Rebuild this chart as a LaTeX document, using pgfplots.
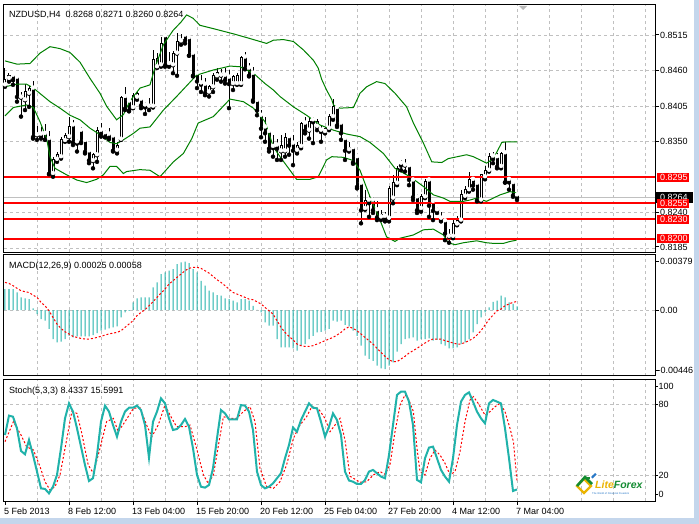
\documentclass[border=0pt]{standalone}
\usepackage{pgfplots}
\usepackage{pgfplotstable}
\pgfplotsset{compat=1.18}
\usepackage{fontspec}
\setmainfont{Liberation Sans}
\definecolor{gridc}{RGB}{192,192,192}
\definecolor{bbc}{RGB}{0,128,0}
\definecolor{tealc}{RGB}{32,178,170}
\definecolor{framec}{RGB}{196,214,236}
\definecolor{logog}{RGB}{20,140,50}
\definecolor{logob}{RGB}{40,120,200}
\definecolor{logoy}{RGB}{235,180,0}
\newcommand\f{\fontsize{9pt}{10pt}\selectfont}
\pgfplotstableread{
x O H L C
0 0.8438 0.8464 0.8435 0.8447
1 0.8448 0.8456 0.8443 0.8452
2 0.8453 0.8456 0.8438 0.8446
3 0.8450 0.8452 0.8412 0.8420
4 0.8419 0.8427 0.8389 0.8422
5 0.8415 0.8440 0.8399 0.8427
6 0.8425 0.8436 0.8404 0.8433
7 0.8433 0.8444 0.8355 0.8358
8 0.8361 0.8374 0.8353 0.8363
9 0.8362 0.8373 0.8355 0.8358
10 0.8363 0.8378 0.8353 0.8354
11 0.8355 0.8366 0.8300 0.8301
12 0.8301 0.8326 0.8296 0.8323
13 0.8323 0.8335 0.8319 0.8330
14 0.8327 0.8358 0.8324 0.8353
15 0.8352 0.8363 0.8350 0.8359
16 0.8358 0.8388 0.8350 0.8374
17 0.8376 0.8384 0.8345 0.8350
18 0.8350 0.8355 0.8335 0.8348
19 0.8368 0.8373 0.8348 0.8350
20 0.8352 0.8353 0.8332 0.8335
21 0.8336 0.8337 0.8317 0.8322
22 0.8321 0.8333 0.8309 0.8330
23 0.8330 0.8373 0.8319 0.8368
24 0.8368 0.8379 0.8358 0.8363
25 0.8364 0.8369 0.8357 0.8358
26 0.8362 0.8371 0.8354 0.8357
27 0.8359 0.8361 0.8335 0.8337
28 0.8337 0.8350 0.8332 0.8345
29 0.8354 0.8421 0.8353 0.8419
30 0.8420 0.8435 0.8399 0.8402
31 0.8413 0.8415 0.8397 0.8399
32 0.8403 0.8426 0.8402 0.8422
33 0.8419 0.8427 0.8415 0.8424
34 0.8416 0.8417 0.8402 0.8407
35 0.8407 0.8412 0.8393 0.8404
36 0.8405 0.8417 0.8399 0.8408
37 0.8405 0.8492 0.8403 0.8477
38 0.8466 0.8487 0.8464 0.8479
39 0.8469 0.8512 0.8466 0.8502
40 0.8514 0.8518 0.8466 0.8469
41 0.8471 0.8489 0.8466 0.8469
42 0.8469 0.8491 0.8456 0.8487
43 0.8487 0.8518 0.8452 0.8505
44 0.8506 0.8517 0.8500 0.8508
45 0.8515 0.8518 0.8502 0.8507
46 0.8511 0.8512 0.8483 0.8484
47 0.8487 0.8489 0.8451 0.8453
48 0.8456 0.8461 0.8433 0.8444
49 0.8441 0.8453 0.8427 0.8439
50 0.8439 0.8448 0.8422 0.8426
51 0.8427 0.8438 0.8420 0.8435
52 0.8435 0.8456 0.8427 0.8453
53 0.8452 0.8464 0.8446 0.8457
54 0.8453 0.8462 0.8443 0.8456
55 0.8453 0.8464 0.8440 0.8446
56 0.8450 0.8461 0.8402 0.8440
57 0.8440 0.8453 0.8430 0.8451
58 0.8440 0.8456 0.8438 0.8452
59 0.8440 0.8483 0.8438 0.8481
60 0.8481 0.8488 0.8462 0.8464
61 0.8464 0.8471 0.8451 0.8453
62 0.8456 0.8466 0.8412 0.8415
63 0.8414 0.8417 0.8391 0.8399
64 0.8391 0.8399 0.8357 0.8371
65 0.8373 0.8389 0.8350 0.8364
66 0.8366 0.8368 0.8335 0.8340
67 0.8343 0.8361 0.8327 0.8341
68 0.8345 0.8355 0.8322 0.8340
69 0.8336 0.8361 0.8322 0.8344
70 0.8336 0.8363 0.8327 0.8357
71 0.8358 0.8361 0.8330 0.8345
72 0.8348 0.8361 0.8314 0.8337
73 0.8337 0.8350 0.8332 0.8344
74 0.8343 0.8381 0.8340 0.8379
75 0.8379 0.8389 0.8363 0.8368
76 0.8368 0.8389 0.8355 0.8381
77 0.8384 0.8389 0.8348 0.8381
78 0.8374 0.8386 0.8368 0.8381
79 0.8368 0.8376 0.8350 0.8366
80 0.8366 0.8373 0.8363 0.8371
81 0.8371 0.8393 0.8368 0.8389
82 0.8389 0.8416 0.8384 0.8405
83 0.8403 0.8405 0.8373 0.8376
84 0.8379 0.8381 0.8353 0.8364
85 0.8355 0.8358 0.8322 0.8337
86 0.8338 0.8350 0.8335 0.8341
87 0.8341 0.8344 0.8316 0.8319
88 0.8327 0.8330 0.8278 0.8281
89 0.8286 0.8288 0.8224 0.8245
90 0.8247 0.8276 0.8245 0.8260
91 0.8260 0.8268 0.8234 0.8256
92 0.8260 0.8265 0.8240 0.8245
93 0.8245 0.8258 0.8229 0.8234
94 0.8234 0.8245 0.8229 0.8237
95 0.8235 0.8242 0.8227 0.8231
96 0.8232 0.8281 0.8227 0.8278
97 0.8263 0.8299 0.8255 0.8287
98 0.8286 0.8312 0.8283 0.8309
99 0.8317 0.8322 0.8306 0.8314
100 0.8314 0.8323 0.8304 0.8317
101 0.8313 0.8314 0.8283 0.8292
102 0.8291 0.8294 0.8260 0.8265
103 0.8265 0.8270 0.8240 0.8245
104 0.8247 0.8270 0.8242 0.8265
105 0.8265 0.8292 0.8263 0.8288
106 0.8291 0.8292 0.8234 0.8252
107 0.8258 0.8260 0.8229 0.8244
108 0.8245 0.8249 0.8240 0.8246
109 0.8232 0.8242 0.8227 0.8229
110 0.8228 0.8232 0.8198 0.8209
111 0.8204 0.8216 0.8194 0.8206
112 0.8204 0.8229 0.8201 0.8224
113 0.8223 0.8235 0.8221 0.8229
114 0.8229 0.8276 0.8227 0.8268
115 0.8266 0.8281 0.8263 0.8277
116 0.8276 0.8304 0.8273 0.8292
117 0.8292 0.8294 0.8276 0.8283
118 0.8286 0.8288 0.8258 0.8260
119 0.8260 0.8301 0.8258 0.8299
120 0.8296 0.8312 0.8292 0.8306
121 0.8306 0.8332 0.8304 0.8328
122 0.8328 0.8335 0.8317 0.8324
123 0.8327 0.8333 0.8309 0.8312
124 0.8312 0.8335 0.8309 0.8332
125 0.8333 0.8349 0.8287 0.8288
126 0.8292 0.8294 0.8276 0.8288
127 0.8287 0.8290 0.8265 0.8268
128 0.8268 0.8271 0.8260 0.8264
}\candles
\pgfplotsset{panel/.style={scale only axis, width=651pt, anchor=north west,
  xmin=-0.25, xmax=162.5, axis line style={black,line width=1pt},
  xtick={8,16,...,160}, xticklabels={}, yticklabels={}, major tick length=0pt,
  scaled y ticks=false, scaled x ticks=false, grid=major,
  major grid style={gridc,line width=1pt,dash pattern=on 3pt off 3pt},
  clip=false}}
\begin{document}
\begin{tikzpicture}[x=1pt,y=1pt]
\useasboundingbox (0,0) rectangle (699,-524);
\fill[framec] (0,0) rectangle (699,-524);
\fill[white] (0,0) rectangle (694,-517.5);
% ---------------- main panel ----------------
\begin{axis}[panel, at={(4pt,-5pt)}, height=247pt, ymin=0.81797, ymax=0.85614,
  ytick={0.8185,0.8240,0.8295,0.8350,0.8405,0.8460,0.8515}]
\addplot[gridc,line width=1pt] coordinates {(-0.25,0.8264) (162.5,0.8264)};
% wicks
\addplot[black, only marks, mark=none,
  error bars/.cd, y dir=plus, y explicit, error mark=none,
  error bar style={black,line width=1pt}]
  table[x=x, y=L, y error expr=\thisrow{H}-\thisrow{L}] {\candles};
% bodies (outline / bear fill)
\addplot[black, only marks, mark=none,
  error bars/.cd, y dir=plus, y explicit, error mark=none,
  error bar style={black,line width=3pt}]
  table[x=x, y expr={min(\thisrow{O},\thisrow{C})-0.00008},
        y error expr={abs(\thisrow{O}-\thisrow{C})+0.00016}] {\candles};
% bull interior
\addplot[white, only marks, mark=none,
  error bars/.cd, y dir=plus, y explicit, error mark=none,
  error bar style={white,line width=1pt}]
  table[x=x, y expr={\thisrow{O}+0.00008},
        y error expr={max(\thisrow{C}-\thisrow{O}-0.00016,0)}] {\candles};
% Bollinger bands
\addplot[bbc,line width=1pt] coordinates {(0,0.8475) (3,0.8470) (6.25,0.8471) (8.75,0.8487) (11.25,0.8497) (13.75,0.8494) (16.25,0.8488) (18.75,0.8473) (21.25,0.8448) (23.75,0.8425) (25.4,0.8405) (27.9,0.8384) (29.6,0.8392) (31.25,0.8413) (33.75,0.8433) (36.25,0.8438) (37.5,0.8465) (39.6,0.8500) (42,0.8522) (44,0.8535) (45.4,0.8546) (47,0.8541) (48.75,0.8530) (52,0.8525) (57,0.8517) (61,0.8510) (65.4,0.8502) (67.1,0.8507) (69.6,0.8508) (72.1,0.8505) (74.6,0.8492) (77.1,0.8476) (78.3,0.8464) (79.2,0.8446) (80.4,0.8430) (81.7,0.8415) (82.1,0.8407) (83.75,0.8402) (87.1,0.8403) (88.75,0.8425) (90.4,0.8435) (92.9,0.8443) (95,0.8440) (97.5,0.8425) (100.4,0.8404) (102.1,0.8379) (104.6,0.8348) (106.7,0.8319) (109.2,0.8318) (110.8,0.8324) (115.4,0.8330) (117.1,0.8327) (120.4,0.8317) (122.1,0.8324) (124.2,0.8349) (125.4,0.8350) (128,0.8350)};
\addplot[bbc,line width=1pt] coordinates {(0,0.8435) (2.9,0.8439) (5.4,0.8439) (7.1,0.8433) (11.25,0.8412) (13.75,0.8402) (16.25,0.8391) (18.75,0.8384) (21.25,0.8371) (23.75,0.8361) (26.25,0.8349) (27.9,0.8347) (29.6,0.8353) (32.1,0.8363) (33.75,0.8371) (36.25,0.8373) (39.6,0.8399) (42.9,0.8420) (47.9,0.8453) (52.1,0.8461) (56.25,0.8467) (58.75,0.8466) (62.1,0.8456) (65,0.8440) (67.1,0.8430) (68.75,0.8420) (72.1,0.8404) (75.4,0.8391) (78.75,0.8376) (82.1,0.8368) (85.4,0.8362) (88.75,0.8358) (91.25,0.8349) (94.6,0.8332) (97.5,0.8309) (101.25,0.8296) (104.6,0.8281) (107.1,0.8268) (109.6,0.8263) (111.25,0.8258) (114.6,0.8258) (116.25,0.8260) (117.9,0.8263) (120.4,0.8258) (123.75,0.8268) (126.25,0.8273) (128,0.8271)};
\addplot[bbc,line width=1pt] coordinates {(0,0.8390) (2.1,0.8403) (5.4,0.8407) (7.1,0.8403) (8.75,0.8381) (10.4,0.8355) (11.25,0.8327) (12.5,0.8309) (15.4,0.8299) (17.9,0.8291) (20.4,0.8287) (22.9,0.8292) (24.6,0.8299) (26.25,0.8312) (27.9,0.8312) (29.6,0.8301) (30.4,0.8304) (33.75,0.8307) (36.25,0.8306) (38.75,0.8296) (42.1,0.8319) (44.6,0.8332) (46.7,0.8355) (48.3,0.8379) (52.1,0.8389) (56.25,0.8416) (59.6,0.8412) (62.1,0.8402) (65,0.8381) (67.1,0.8342) (68.75,0.8327) (71.25,0.8306) (72.9,0.8292) (76.25,0.8292) (78.3,0.8296) (80.4,0.8322) (81.7,0.8327) (84.6,0.8326) (87.1,0.8321) (88.75,0.8306) (91.25,0.8265) (93.75,0.8229) (95.4,0.8203) (97.5,0.8196) (98.75,0.8201) (102.1,0.8206) (104.6,0.8214) (107.1,0.8215) (109.6,0.8206) (110.8,0.8194) (112.5,0.8191) (114.6,0.8194) (117.9,0.8197) (120.4,0.8194) (122.1,0.8193) (124.6,0.8193) (126.25,0.8196) (127.9,0.8198)};
% support / resistance lines
\addplot[red,line width=2pt] coordinates {(-0.25,0.8295) (162.5,0.8295)};
\addplot[red,line width=2pt] coordinates {(-0.25,0.8255) (162.5,0.8255)};
\addplot[red,line width=2pt] coordinates {(-0.25,0.8230) (162.5,0.8230)};
\addplot[red,line width=2pt] coordinates {(-0.25,0.8200) (162.5,0.8200)};
\end{axis}
% ---------------- MACD panel ----------------
\begin{axis}[panel, at={(4pt,-254pt)}, height=122pt, ymin=-0.00446, ymax=0.00379, ytick={0}]
\addplot[ybar, bar width=1pt, fill=tealc, draw=none] coordinates {(0,0.00142) (1,0.00142) (2,0.00142) (3,0.00119) (4,0.00086) (5,0.00079) (6,0.00074) (7,0.00011) (8,-0.00027) (9,-0.00061) (10,-0.00072) (11,-0.00128) (12,-0.00196) (13,-0.00219) (14,-0.00214) (15,-0.00196) (16,-0.00174) (17,-0.00185) (18,-0.00178) (19,-0.00178) (20,-0.00178) (21,-0.00178) (22,-0.00169) (23,-0.00156) (24,-0.00140) (25,-0.00133) (26,-0.00124) (27,-0.00117) (28,-0.00110) (29,-0.00050) (30,-0.00016) (31,-0.00005) (32,0.00052) (33,0.00079) (34,0.00086) (35,0.00086) (36,0.00086) (37,0.00153) (38,0.00187) (39,0.00243) (40,0.00255) (41,0.00266) (42,0.00277) (43,0.00311) (44,0.00322) (45,0.00327) (46,0.00318) (47,0.00277) (48,0.00255) (49,0.00198) (50,0.00165) (51,0.00131) (52,0.00119) (53,0.00101) (54,0.00097) (55,0.00079) (56,0.00074) (57,0.00063) (58,0.00052) (59,0.00074) (60,0.00074) (61,0.00063) (62,0.00029) (63,0.00001) (64,-0.00016) (65,-0.00083) (66,-0.00106) (67,-0.00106) (68,-0.00196) (69,-0.00252) (70,-0.00252) (71,-0.00252) (72,-0.00259) (73,-0.00275) (74,-0.00241) (75,-0.00230) (76,-0.00196) (77,-0.00174) (78,-0.00151) (79,-0.00147) (80,-0.00140) (81,-0.00128) (82,-0.00072) (83,-0.00079) (84,-0.00072) (85,-0.00101) (86,-0.00110) (87,-0.00140) (88,-0.00174) (89,-0.00241) (90,-0.00309) (91,-0.00331) (92,-0.00343) (93,-0.00376) (94,-0.00394) (95,-0.00399) (96,-0.00376) (97,-0.00354) (98,-0.00282) (99,-0.00230) (100,-0.00196) (101,-0.00192) (102,-0.00185) (103,-0.00207) (104,-0.00196) (105,-0.00196) (106,-0.00192) (107,-0.00207) (108,-0.00201) (109,-0.00230) (110,-0.00241) (111,-0.00259) (112,-0.00259) (113,-0.00252) (114,-0.00230) (115,-0.00219) (116,-0.00196) (117,-0.00151) (118,-0.00095) (119,-0.00050) (120,-0.00016) (121,0.00018) (122,0.00056) (123,0.00063) (124,0.00097) (125,0.00086) (126,0.00052) (127,0.00041) (128,0.00025)};
\addplot[red, line width=1pt, dash pattern=on 2pt off 2pt] coordinates {(0,0.00187) (1,0.00180) (2,0.00165) (3,0.00147) (4,0.00131) (5,0.00124) (6,0.00119) (7,0.00101) (8,0.00086) (9,0.00052) (10,0.00029) (11,-0.00005) (12,-0.00050) (13,-0.00095) (14,-0.00124) (15,-0.00147) (16,-0.00162) (17,-0.00178) (18,-0.00185) (19,-0.00192) (20,-0.00196) (21,-0.00196) (22,-0.00192) (23,-0.00185) (24,-0.00178) (25,-0.00169) (26,-0.00162) (27,-0.00156) (28,-0.00151) (29,-0.00140) (30,-0.00117) (31,-0.00095) (32,-0.00072) (33,-0.00038) (34,-0.00016) (35,0.00002) (36,0.00029) (37,0.00056) (38,0.00086) (39,0.00115) (40,0.00142) (41,0.00176) (42,0.00198) (43,0.00221) (44,0.00243) (45,0.00266) (46,0.00282) (47,0.00289) (48,0.00289) (49,0.00282) (50,0.00266) (51,0.00250) (52,0.00228) (53,0.00205) (54,0.00187) (55,0.00165) (56,0.00142) (57,0.00119) (58,0.00108) (59,0.00097) (60,0.00086) (61,0.00074) (62,0.00070) (63,0.00056) (64,0.00041) (65,0.00018) (66,-0.00005) (67,-0.00027) (68,-0.00072) (69,-0.00117) (70,-0.00151) (71,-0.00178) (72,-0.00201) (73,-0.00230) (74,-0.00241) (75,-0.00246) (76,-0.00246) (77,-0.00241) (78,-0.00230) (79,-0.00219) (80,-0.00207) (81,-0.00196) (82,-0.00185) (83,-0.00169) (84,-0.00151) (85,-0.00128) (86,-0.00113) (87,-0.00124) (88,-0.00140) (89,-0.00162) (90,-0.00185) (91,-0.00207) (92,-0.00230) (93,-0.00259) (94,-0.00286) (95,-0.00313) (96,-0.00336) (97,-0.00349) (98,-0.00349) (99,-0.00331) (100,-0.00313) (101,-0.00291) (102,-0.00275) (103,-0.00259) (104,-0.00241) (105,-0.00223) (106,-0.00207) (107,-0.00196) (108,-0.00196) (109,-0.00196) (110,-0.00207) (111,-0.00214) (112,-0.00223) (113,-0.00230) (114,-0.00230) (115,-0.00219) (116,-0.00207) (117,-0.00192) (118,-0.00169) (119,-0.00140) (120,-0.00101) (121,-0.00065) (122,-0.00034) (123,-0.00005) (124,0.00007) (125,0.00029) (126,0.00041) (127,0.00052) (128,0.00058)};
\end{axis}
% ---------------- Stochastic panel ----------------
\begin{axis}[panel, at={(4pt,-379pt)}, height=122pt, ymin=-1.35, ymax=101.35, ytick={20,80}]
\addplot[red, line width=1pt, dash pattern=on 2pt off 2pt] coordinates {(0,48.6) (2.1,65.4) (4,54.2) (5.4,44.4) (7.1,41.6) (8.75,27.6) (10,14.9) (11.25,7.9) (12.5,10.7) (13.75,20.6) (15.4,50.0) (16.7,73.9) (18,72.4) (19.2,55.6) (20.8,29.0) (22.1,22.0) (23.75,43.0) (25.4,65.4) (27.1,68.2) (28.3,57.0) (30,65.4) (32.1,76.6) (33.75,77.2) (35.4,62.6) (36.7,52.8) (38.3,62.6) (40,79.4) (41.25,71.0) (42.9,61.2) (45,61.2) (46.25,62.6) (47.9,43.0) (49.6,20.6) (50.8,13.5) (52.1,20.6) (53.3,44.4) (54.6,69.6) (56.25,68.2) (57.9,68.2) (59.6,73.9) (61.25,78.0) (62.5,65.4) (63.75,26.2) (65.4,10.7) (67.1,9.3) (68.75,14.9) (70.4,29.0) (72.1,51.4) (73.75,62.6) (75.4,69.6) (76.7,78.0) (78.3,76.6) (80,68.2) (81.25,57.0) (82.5,62.6) (83.75,68.2) (85,50.0) (86.25,19.5) (87.1,17.8) (88.75,14.4) (90.4,14.9) (92.1,20.6) (93.75,23.4) (95,21.1) (96.25,29.0) (97.5,57.0) (98.75,79.4) (100,87.9) (100.8,85.1) (102.1,73.9) (103,43.0) (103.75,23.4) (105,20.6) (106.25,34.6) (107.5,41.6) (108.75,37.4) (110,30.4) (111.25,20.6) (112.5,23.4) (113.75,40.2) (115,65.4) (116.25,83.7) (117.1,86.5) (118.3,80.8) (120,71.0) (121.25,73.9) (122.5,78.0) (123.75,80.8) (125,73.9) (126.25,59.8) (127.1,48.6) (128,15.6)};
\addplot[tealc, line width=2pt] coordinates {(0,54.2) (1,70.5) (2,69.6) (3,59.8) (4,40.8) (5,38.0) (6,50.0) (7,37.4) (8,23.4) (9,9.3) (10,8.8) (11,5.1) (12,10.7) (13,20.6) (14,43.0) (15,68.2) (16,80.8) (17,73.9) (18,59.8) (19,44.4) (20,29.0) (21,15.5) (22,17.8) (23,37.4) (24,65.4) (25,78.9) (26,73.9) (27,62.6) (28,52.8) (29,65.4) (30,73.9) (31,77.2) (32,77.2) (33,78.9) (34,75.2) (35,62.6) (36,35.1) (37,65.4) (38,73.9) (39,85.1) (40,80.8) (41,68.2) (42,58.4) (43,59.3) (44,62.6) (45,67.7) (46,61.2) (47,43.0) (48,20.6) (49,10.7) (50,9.9) (51,12.1) (52,26.2) (53,51.4) (54,75.2) (55,72.4) (56,67.4) (57,67.4) (58,67.4) (59,79.4) (60,78.9) (61,73.9) (62,58.4) (63,23.4) (64,12.1) (65,9.3) (66,10.7) (67,13.5) (68,17.8) (69,22.0) (70,34.6) (71,45.8) (72,60.4) (73,57.0) (74,66.8) (75,73.9) (76,80.8) (77,77.2) (78,76.6) (79,65.4) (80,52.8) (81,61.2) (82,72.4) (83,66.8) (84,54.2) (85,23.4) (86,15.9) (87,14.9) (88,13.0) (89,13.0) (90,16.4) (91,23.4) (92,24.8) (93,22.0) (94,19.2) (95,17.8) (96,37.4) (97,62.6) (98,87.9) (99,90.7) (100,90.7) (101,82.3) (102,62.6) (103,16.4) (104,14.4) (105,34.6) (106,43.6) (107,44.4) (108,34.6) (109,24.8) (110,19.2) (111,14.9) (112,34.6) (113,62.6) (114,82.3) (115,87.9) (116,90.1) (117,82.3) (118,73.9) (119,68.2) (120,64.0) (121,80.8) (122,83.7) (123,82.3) (124,80.8) (125,59.8) (126,34.6) (127,7.1) (128,8.4)};
\end{axis}
% ---------------- titles ----------------
\node[anchor=base west,inner sep=0] at (9,-17.3) {\f NZDUSD,H4\ \ 0.8268 0.8271 0.8260 0.8264};
\node[anchor=base west,inner sep=0] at (9,-268.3) {\f MACD(12,26,9) 0.00025 0.00058};
\node[anchor=base west,inner sep=0] at (9,-393.3) {\f Stoch(5,3,3) 8.4337 15.5991};
% shift marker
\fill[gray!55] (519,-6) -- (527,-6) -- (523,-10) -- cycle;
% ---------------- right scale: main ----------------
\foreach \yy/\tt in {35/0.8515,70.6/0.8460,106.2/0.8405,141.8/0.8350,212.6/0.8240,246.8/0.8185}{
  \draw[black,line width=1pt] (655,-\yy) -- (658.5,-\yy);
  \node[anchor=base west,inner sep=0] at (660,-\yy-3.2) {\f\tt};}
\fill[red] (656.5,-172.9) rectangle (689,-181.9);
\node[anchor=base west,inner sep=0,text=white] at (660,-180.6) {\f 0.8295};
\fill[black] (656,-192) rectangle (692.5,-203);
\node[anchor=base west,inner sep=0,text=white] at (660,-200.6) {\f 0.8264};
\fill[red] (656.5,-198.6) rectangle (689,-207.6);
\node[anchor=base west,inner sep=0,text=white] at (660,-206.3) {\f 0.8255};
\fill[red] (656.5,-214.6) rectangle (689,-223.6);
\node[anchor=base west,inner sep=0,text=white] at (660,-222.3) {\f 0.8230};
\fill[red] (656.5,-234.2) rectangle (689,-243.2);
\node[anchor=base west,inner sep=0,text=white] at (660,-241.9) {\f 0.8200};
% ---------------- right scale: MACD ----------------
\foreach \yy in {261.7,310.5,370.7}{
  \draw[black,line width=1pt] (655,-\yy) -- (658.5,-\yy);}
\node[anchor=base west,inner sep=0] at (660,-264.9) {\f 0.00379};
\node[anchor=base west,inner sep=0] at (660,-313.7) {\f 0.00};
\node[anchor=base west,inner sep=0] at (657.5,-373.9) {\f -0.00446};
% ---------------- right scale: Stoch ----------------
\foreach \yy/\tt in {386.7/100,404.3/80,475.7/20,494/0}{
  \draw[black,line width=1pt] (655,-\yy) -- (658,-\yy);
  \node[anchor=base west,inner sep=0] at (658.5,-\yy-3.2) {\f\tt};}
% ---------------- time axis ----------------
\foreach \xx/\tt in {5/5 Feb 2013,69/8 Feb 12:00,133/13 Feb 04:00,197/15 Feb 20:00,261/20 Feb 12:00,325/25 Feb 04:00,389/27 Feb 20:00,453/4 Mar 12:00,517/7 Mar 04:00}{
  \draw[black,line width=1pt] (\xx,-501) -- (\xx,-505);
  \node[anchor=base west,inner sep=0] at (\xx-1,-514.2) {\f\tt};}
% ---------------- logo ----------------
\draw[logoy,line width=2.4pt] (577,-486) -- (584,-479) -- (591,-486) -- (584,-493) -- cycle;
\draw[logog,line width=2.6pt] (577,-486) -- (585,-477) -- (592,-484);
\draw[logog,line width=2.2pt] (584,-478) -- (590,-478);
\fill[logob] (591,-477) -- (595,-473) -- (596.5,-474.5) -- (592.5,-478.5) -- cycle;
\node[anchor=base west,inner sep=0] at (595,-488.3) {\fontsize{10.5pt}{11pt}\selectfont\bfseries\itshape\color{logoy}Lite\color{logog}Forex};
\node[anchor=base west,inner sep=0] at (592,-494) {\fontsize{2.6pt}{3pt}\selectfont\color{logob}The World of Financial Freedom};
\end{tikzpicture}
\end{document}
